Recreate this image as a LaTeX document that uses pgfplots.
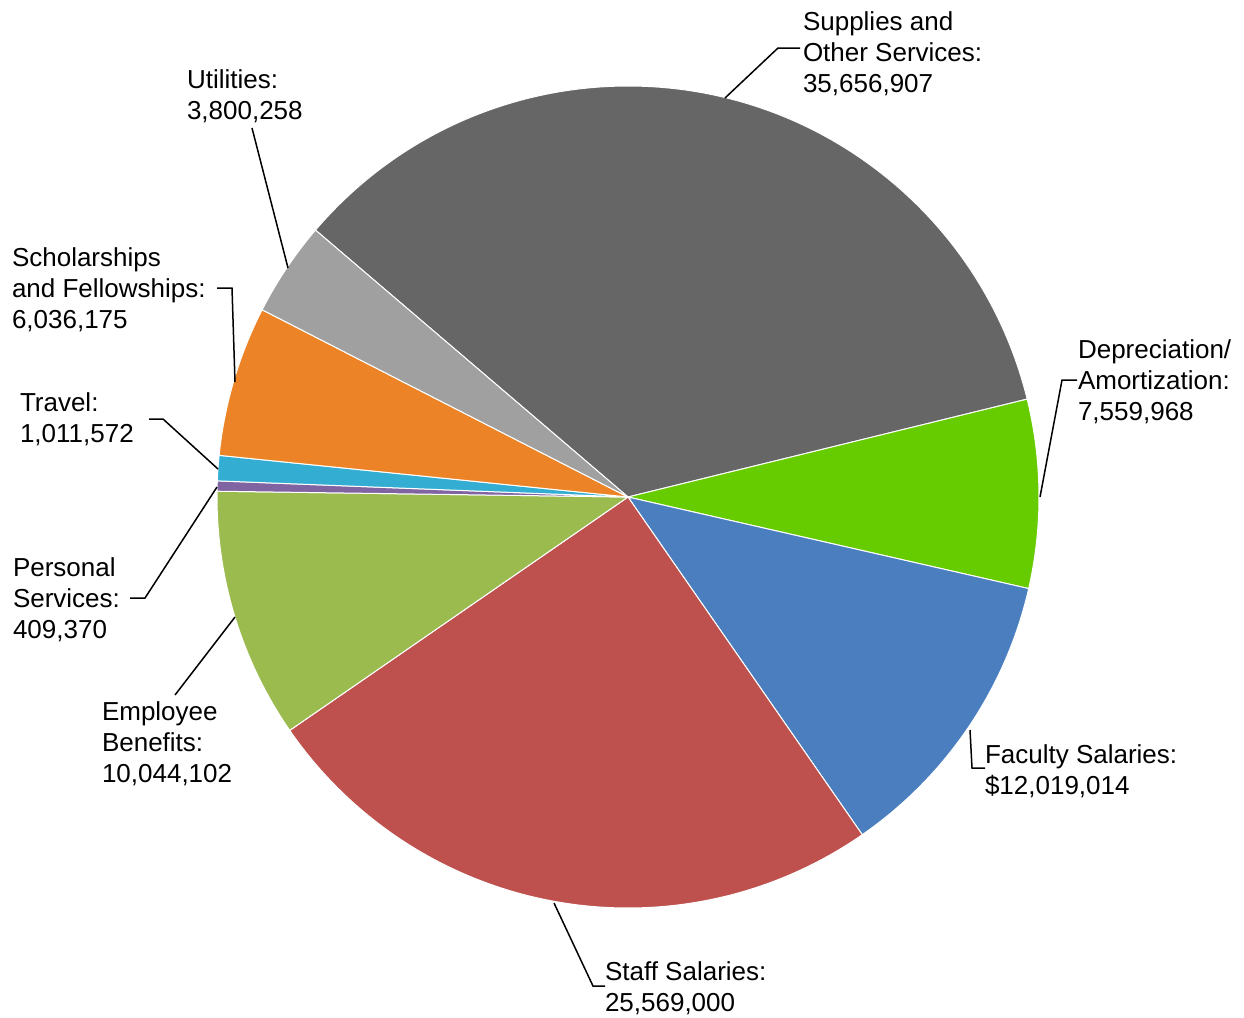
\documentclass[border=0pt]{standalone}
\usepackage{pgfplots}
\usepackage{pgfplotstable}
\usepackage{fontspec}
\setmainfont{Liberation Sans}
\pgfplotsset{compat=1.18}
\definecolor{slice0}{HTML}{666666}
\definecolor{slice1}{HTML}{66CC00}
\definecolor{slice2}{HTML}{4A7EBF}
\definecolor{slice3}{HTML}{BE504D}
\definecolor{slice4}{HTML}{9BBB4F}
\definecolor{slice5}{HTML}{8064A2}
\definecolor{slice6}{HTML}{33AED2}
\definecolor{slice7}{HTML}{EC8427}
\definecolor{slice8}{HTML}{A0A0A0}
\pgfplotstableread{
value
35656907
7559968
12019014
25569000
10044102
409370
1011572
6036175
3800258
}\pietable
\tikzset{lbl/.style={font=\fontsize{13}{15.5}\selectfont, inner sep=0pt, outer sep=0pt, anchor=base west}}
\begin{document}
\begin{tikzpicture}
% total and slice angles (clockwise from 139.5 degrees)
\def\total{0}
\pgfplotsforeachungrouped \i in {0,...,8}{%
  \pgfplotstablegetelem{\i}{value}\of\pietable
  \xdef\total{\fpeval{\total+\pgfplotsretval}}%
}
\def\cur{139.5}
\pgfplotsforeachungrouped \i in {0,...,8}{%
  \pgfplotstablegetelem{\i}{value}\of\pietable
  \expandafter\xdef\csname sa\i\endcsname{\cur}%
  \xdef\cur{\fpeval{round(\cur - 360*\pgfplotsretval/\total,4)}}%
  \expandafter\xdef\csname ea\i\endcsname{\cur}%
}
\begin{axis}[
  scale only axis, width=622pt, height=508.5pt,
  xmin=0, xmax=1244, ymin=0, ymax=1017, y dir=reverse,
  hide axis, clip=false,
]
\path (axis cs:0,0) rectangle (axis cs:1244,1017);
\pgfplotsinvokeforeach{0,...,8}{%
  \fill[slice#1, draw=white, line width=0.5pt] (axis cs:628,497) -- +(\csname sa#1\endcsname:205.5pt)
    arc[start angle=\csname sa#1\endcsname, end angle=\csname ea#1\endcsname, radius=205.5pt] -- cycle;
}
% leader lines
\addplot[black, line width=0.75pt] coordinates {(725,98) (778,48) (800,48)};
\addplot[black, line width=0.75pt] coordinates {(1040,497) (1062,380) (1077,380)};
\addplot[black, line width=0.75pt] coordinates {(970,730) (972,768) (985,768)};
\addplot[black, line width=0.75pt] coordinates {(554,903) (593,986) (605,986)};
\addplot[black, line width=0.75pt] coordinates {(235,617) (175,695)};
\addplot[black, line width=0.75pt] coordinates {(217,487) (145,598) (130,598)};
\addplot[black, line width=0.75pt] coordinates {(218,469) (163,419) (149,419)};
\addplot[black, line width=0.75pt] coordinates {(235,382) (232,288) (217,288)};
\addplot[black, line width=0.75pt] coordinates {(288,268) (252,128)};
% labels
\node[lbl] at (axis cs:803,30) {Supplies and};
\node[lbl] at (axis cs:803,61) {Other Services:};
\node[lbl] at (axis cs:803,92) {35,656,907};
\node[lbl] at (axis cs:1078,358) {Depreciation/};
\node[lbl] at (axis cs:1078,389) {Amortization:};
\node[lbl] at (axis cs:1078,420) {7,559,968};
\node[lbl] at (axis cs:985,763) {Faculty Salaries:};
\node[lbl] at (axis cs:985,794) {\$12,019,014};
\node[lbl] at (axis cs:605,980) {Staff Salaries:};
\node[lbl] at (axis cs:605,1011) {25,569,000};
\node[lbl] at (axis cs:102,720) {Employee};
\node[lbl] at (axis cs:102,751) {Benefits:};
\node[lbl] at (axis cs:102,782) {10,044,102};
\node[lbl] at (axis cs:13,576) {Personal};
\node[lbl] at (axis cs:13,607) {Services:};
\node[lbl] at (axis cs:13,638) {409,370};
\node[lbl] at (axis cs:20,411) {Travel:};
\node[lbl] at (axis cs:20,442) {1,011,572};
\node[lbl] at (axis cs:12,266) {Scholarships};
\node[lbl] at (axis cs:12,297) {and Fellowships:};
\node[lbl] at (axis cs:12,328) {6,036,175};
\node[lbl] at (axis cs:187,88) {Utilities:};
\node[lbl] at (axis cs:187,119) {3,800,258};
\end{axis}
\end{tikzpicture}
\end{document}
